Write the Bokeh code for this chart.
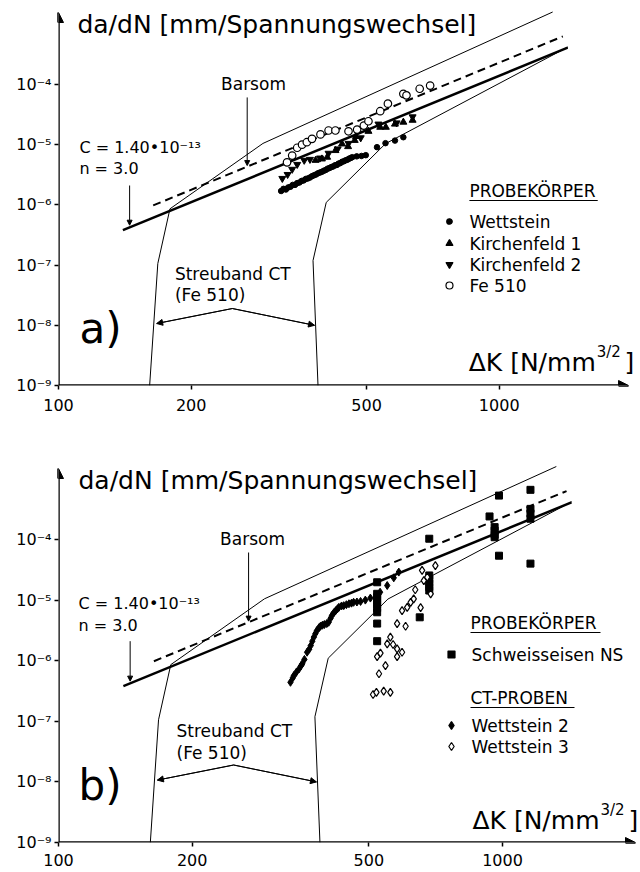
from bokeh.plotting import figure
from bokeh.models import Range1d, FixedTicker, Arrow, NormalHead, Label
from bokeh.layouts import column
from bokeh.embed import file_html
from bokeh.resources import INLINE

FONT = "DejaVu Sans"

# ---------------- shared lines (both panels) ----------------
paris_K = [140, 1430]
paris_da = [3.8e-7, 4.1e-4]
barsom_K = [164, 1394]
barsom_da = [9.8e-7, 6.3e-4]
band_upper_K = [161, 168, 179, 291, 1322]
band_upper_da = [1e-9, 1.06e-7, 8.6e-7, 1.05e-5, 1.6e-3]
band_lower_K = [388, 378, 405, 552, 1432]
band_lower_da = [1e-9, 1.19e-7, 1.1e-6, 1.04e-5, 4.2e-4]
streu_K = [167, 248, 381]
streu_da = [1.07e-8, 1.9e-8, 1.0e-8]
barsom_ptr_K = [268, 268]
barsom_ptr_da = [6.1e-5, 4.5e-6]
cn_ptr_K = [145, 145]
cn_ptr_da = [2.1e-6, 4.6e-7]

x_tick_vals = [100, 200, 500, 1000]
x_tick_labels = ["100", "200", "500", "1000"]
y_tick_vals = [1e-9, 1e-8, 1e-7, 1e-6, 1e-5, 1e-4]
y_tick_labels = ["10⁻⁹", "10⁻⁸", "10⁻⁷", "10⁻⁶", "10⁻⁵", "10⁻⁴"]

# ---------------- panel a) data ----------------
wett_K = [320, 324, 328, 332, 336, 340, 344, 348, 352, 356, 360, 364, 368, 372, 376, 380,
          384, 388, 392, 396, 400, 404, 408, 412, 416, 420, 424, 428, 432, 436, 440, 444,
          448, 452, 456, 460, 464, 475, 487, 498, 528, 552, 580, 606]
wett_da = [1.70e-6, 1.85e-6, 1.80e-6, 1.95e-6, 2.0e-6, 2.15e-6, 2.15e-6, 2.3e-6, 2.35e-6, 2.5e-6,
           2.55e-6, 2.7e-6, 2.75e-6, 2.85e-6, 3.0e-6, 3.1e-6, 3.2e-6, 3.35e-6, 3.45e-6, 3.55e-6,
           3.7e-6, 3.8e-6, 4.0e-6, 4.1e-6, 4.25e-6, 4.35e-6, 4.55e-6, 4.6e-6, 4.85e-6, 4.95e-6,
           5.2e-6, 5.3e-6, 5.5e-6, 5.6e-6, 5.85e-6, 6.0e-6, 6.2e-6, 6.4e-6, 6.5e-6, 6.7e-6,
           9.1e-6, 1.06e-5, 1.17e-5, 1.33e-5]
kf1_K = [383, 396, 407, 425, 440, 454, 470, 473, 505, 537, 553, 580, 606, 636]
kf1_da = [5.5e-6, 5.8e-6, 6.2e-6, 8.0e-6, 1.03e-5, 9.3e-6, 1.18e-5, 1.37e-5, 1.67e-5, 1.95e-5,
          1.95e-5, 2.2e-5, 2.37e-5, 2.55e-5]
kf2_K = [322, 331, 339, 348, 361, 372, 392, 410, 430, 455, 485, 532, 585, 636]
kf2_da = [2.75e-6, 3.2e-6, 3.9e-6, 4.7e-6, 5.5e-6, 5.7e-6, 6.0e-6, 7.2e-6, 8.5e-6, 1.05e-5,
          1.3e-5, 2.2e-5, 2.3e-5, 2.9e-5]
fe_K = [330, 339, 348, 357, 366, 376, 393, 410, 425, 455, 476, 493, 505, 537, 559, 606, 616,
        660, 697]
fe_da = [5.1e-6, 6.6e-6, 8.9e-6, 1.0e-5, 1.1e-5, 1.25e-5, 1.48e-5, 1.72e-5, 1.72e-5, 1.67e-5,
         1.78e-5, 2.08e-5, 2.45e-5, 3.6e-5, 4.8e-5, 7.0e-5, 6.6e-5, 8.5e-5, 9.6e-5]

# ---------------- panel b) data ----------------
ns_K = [522, 522, 522, 522, 522, 522, 522, 522, 522,
        684, 684, 684, 684, 684, 684, 651,
        982, 935, 960, 960, 960, 960, 982,
        1156, 1156, 1156, 1156, 1156]
ns_da = [1.97e-5, 1.27e-5, 1.12e-5, 9.8e-6, 8.5e-6, 7.4e-6, 6.3e-6, 4.1e-6, 2.1e-6,
         1.03e-4, 2.55e-5, 2.2e-5, 1.9e-5, 1.65e-5, 1.44e-5, 5.2e-6,
         5.3e-4, 2.4e-4, 1.6e-4, 1.4e-4, 1.2e-4, 1.09e-4, 5.4e-5,
         6.6e-4, 3.2e-4, 2.7e-4, 2.2e-4, 4.0e-5]
w2_K = [333, 337, 339, 343, 348, 352, 354, 358, 363, 367, 370, 373, 376, 379, 382, 386, 389,
        393, 397, 402, 406, 410, 413, 417, 421, 425, 428, 434, 439, 445, 451, 457, 462, 470,
        479, 491, 504, 530, 550, 569, 584]
w2_da = [4.4e-7, 5.2e-7, 5.7e-7, 6.4e-7, 7.3e-7, 8.3e-7, 8.9e-7, 1.05e-6, 1.38e-6, 1.55e-6,
         1.78e-6, 2.1e-6, 2.45e-6, 2.8e-6, 3.15e-6, 3.5e-6, 3.7e-6, 3.85e-6, 3.95e-6, 4.1e-6,
         4.3e-6, 5.0e-6, 5.6e-6, 6.2e-6, 6.7e-6, 7.2e-6, 7.6e-6, 8.0e-6, 8.1e-6, 8.4e-6, 8.7e-6,
         8.9e-6, 9.2e-6, 9.3e-6, 9.5e-6, 1.0e-5, 1.08e-5, 1.35e-5, 1.74e-5, 2.33e-5, 2.9e-5]
w3_K = [511, 520, 540, 559, 527, 545, 522, 531, 550, 559, 567, 579, 579, 594, 579, 605, 594,
        610, 621, 631, 654, 659, 665, 677, 689, 706, 636]
w3_da = [2.77e-7, 3.0e-7, 3.14e-7, 3.0e-7, 6.1e-7, 8.3e-7, 1.17e-6, 1.33e-6, 1.9e-6, 2.45e-6,
         1.85e-6, 1.57e-6, 1.17e-6, 1.38e-6, 4.1e-6, 3.7e-6, 6.7e-6, 7.6e-6, 9.2e-6, 1.05e-5,
         7.5e-6, 3.1e-5, 2.1e-5, 2.4e-5, 1.27e-5, 3.7e-5, 1.48e-5]


def mapper(x0, dec_x, y0, dec_y):
    def f(px, py):
        return 100 * 10 ** ((px - x0) / dec_x), 10 ** ((y0 - py) / dec_y - 9)
    return f


def make_panel(height, b_left, b_top, b_bottom, f, top_py, tip_px, tip_py, standoff):
    xmax = f(640, 0)[0]
    ymax = f(0, top_py)[1]
    p = figure(width=640, height=height, x_axis_type="log", y_axis_type="log",
               x_range=Range1d(100, xmax), y_range=Range1d(1e-9, ymax),
               output_backend="svg", toolbar_location=None,
               min_border_left=b_left, min_border_right=0,
               min_border_top=b_top, min_border_bottom=b_bottom)
    p.outline_line_color = None
    p.grid.visible = False
    for ax, vals, labs in ((p.xaxis, x_tick_vals, x_tick_labels),
                           (p.yaxis, y_tick_vals, y_tick_labels)):
        ax.ticker = FixedTicker(ticks=vals, minor_ticks=[])
        ax.major_label_overrides = {v: l for v, l in zip(vals, labs)}
        ax.axis_line_color = None
        ax.major_tick_out = 4
        ax.major_tick_in = 0
        ax.major_tick_line_width = 1.5
        ax.major_tick_line_color = "black"
        ax.major_label_text_font = FONT
        ax.major_label_text_font_size = "16px"
        ax.major_label_text_color = "black"
    p.xaxis.major_label_standoff = standoff
    p.yaxis.major_label_standoff = 3
    # axis lines drawn as arrows
    xtip = f(tip_px, 0)[0]
    ytip = f(0, tip_py)[1]
    p.add_layout(Arrow(end=NormalHead(size=10, fill_color="black", line_color="black"),
                       x_start=100, y_start=1e-9, x_end=xtip, y_end=1e-9,
                       line_width=2.5, line_color="black"))
    p.add_layout(Arrow(end=NormalHead(size=10, fill_color="black", line_color="black"),
                       x_start=100, y_start=1e-9, x_end=100, y_end=ytip,
                       line_width=2.5, line_color="black"))
    # shared lines
    p.line(band_upper_K, band_upper_da, line_color="black", line_width=1)
    p.line(band_lower_K, band_lower_da, line_color="black", line_width=1)
    p.line(paris_K, paris_da, line_color="black", line_width=2.5)
    p.line(barsom_K, barsom_da, line_color="black", line_width=2, line_dash="8 5")
    for i in (0, 2):
        p.add_layout(Arrow(end=NormalHead(size=6, fill_color="black", line_color="black"),
                           x_start=streu_K[1], y_start=streu_da[1],
                           x_end=streu_K[i], y_end=streu_da[i],
                           line_width=1, line_color="black"))
    p.line(streu_K, streu_da, line_color="black", line_width=1)
    for kk, dd in ((barsom_ptr_K, barsom_ptr_da), (cn_ptr_K, cn_ptr_da)):
        p.add_layout(Arrow(end=NormalHead(size=5, fill_color="black", line_color="black"),
                           x_start=kk[0], y_start=dd[0], x_end=kk[1], y_end=dd[1],
                           line_width=1, line_color="black"))
    return p


def txt(p, f, px, py, s, size, align="left"):
    x, y = f(px, py)
    p.add_layout(Label(x=x, y=y, text=s, text_font=FONT, text_font_size=size,
                       text_align=align, text_baseline="middle", text_color="black"))


# ---------------- panel a) (page y 0..430) ----------------
fa = mapper(55, 443, 385, 60.2)
pa = make_panel(430, 55, 0, 45, fa, 0, 628, 12, 9)

pa.scatter(wett_K, wett_da, marker="circle", size=5.5, color="black")
pa.scatter(kf1_K, kf1_da, marker="triangle", size=7, color="black")
pa.scatter(kf2_K, kf2_da, marker="inverted_triangle", size=7, color="black")
pa.scatter(fe_K, fe_da, marker="circle", size=7.5, fill_color="white", line_color="black",
           line_width=1.2)

txt(pa, fa, 74, 24, "da/dN [mm/Spannungswechsel]", "25px")
txt(pa, fa, 251, 83, "Barsom", "17px", "center")
txt(pa, fa, 76, 147, "C = 1.40•10⁻¹³", "16px")
txt(pa, fa, 76, 168, "n = 3.0", "16px")
txt(pa, fa, 172, 273, "Streuband CT", "17px")
txt(pa, fa, 172, 294, "(Fe 510)", "17px")
txt(pa, fa, 76, 328, "a)", "42px")
txt(pa, fa, 595, 362, "ΔK [N/mm", "25px", "right")
txt(pa, fa, 596, 351, "3/2", "15px")
txt(pa, fa, 624, 362, "]", "25px")
txt(pa, fa, 468, 190, "PROBEKÖRPER", "17px")
ua = [fa(468, 200), fa(597, 200)]
pa.line([ua[0][0], ua[1][0]], [ua[0][1], ua[1][1]], line_color="black", line_width=1.2)
leg_a = [("circle", "Wettstein", 221, 5.5, "black"),
         ("triangle", "Kirchenfeld 1", 243, 7, "black"),
         ("inverted_triangle", "Kirchenfeld 2", 264, 7, "black"),
         ("circle", "Fe 510", 285, 7, "white")]
for mk, lab, py, sz, fc in leg_a:
    mx, my = fa(448, py)
    pa.scatter([mx], [my], marker=mk, size=sz, fill_color=fc, line_color="black", line_width=1.2)
    txt(pa, fa, 468, py, lab, "17px")

# ---------------- panel b) (page y 430..872) ----------------
fb = mapper(58, 444, 842, 60.6)
pb = make_panel(442, 58, 0, 30, fb, 430, 635, 468, 7)

pb.scatter(ns_K, ns_da, marker="square", size=7, color="black")
pb.scatter(w2_K, w2_da, marker="diamond", size=8, color="black")
pb.scatter(w3_K, w3_da, marker="diamond", size=8, fill_color="white", line_color="black",
           line_width=1.2)

txt(pb, fb, 78, 480, "da/dN [mm/Spannungswechsel]", "25px")
txt(pb, fb, 252, 538, "Barsom", "17px", "center")
txt(pb, fb, 78, 603, "C = 1.40•10⁻¹³", "16px")
txt(pb, fb, 78, 625, "n = 3.0", "16px")
txt(pb, fb, 176, 730, "Streuband CT", "17px")
txt(pb, fb, 176, 752, "(Fe 510)", "17px")
txt(pb, fb, 78, 785, "b)", "42px")
txt(pb, fb, 599, 820, "ΔK [N/mm", "25px", "right")
txt(pb, fb, 600, 809, "3/2", "15px")
txt(pb, fb, 628, 820, "]", "25px")
txt(pb, fb, 470, 622, "PROBEKÖRPER", "17px")
txt(pb, fb, 470, 697, "CT-PROBEN", "17px")
for x1, x2, py in ((470, 600, 632), (470, 574, 707)):
    a, b = fb(x1, py), fb(x2, py)
    pb.line([a[0], b[0]], [a[1], b[1]], line_color="black", line_width=1.2)
leg_b = [("square", "Schweisseisen NS", 654, 7, "black"),
         ("diamond", "Wettstein 2", 725, 8, "black"),
         ("diamond", "Wettstein 3", 746, 8, "white")]
for mk, lab, py, sz, fc in leg_b:
    mx, my = fb(451, py)
    pb.scatter([mx], [my], marker=mk, size=sz, fill_color=fc, line_color="black", line_width=1.2)
    txt(pb, fb, 471, py, lab, "17px")

layout = column(pa, pb, spacing=0)
open("out.html", "w").write(file_html(layout, INLINE))
